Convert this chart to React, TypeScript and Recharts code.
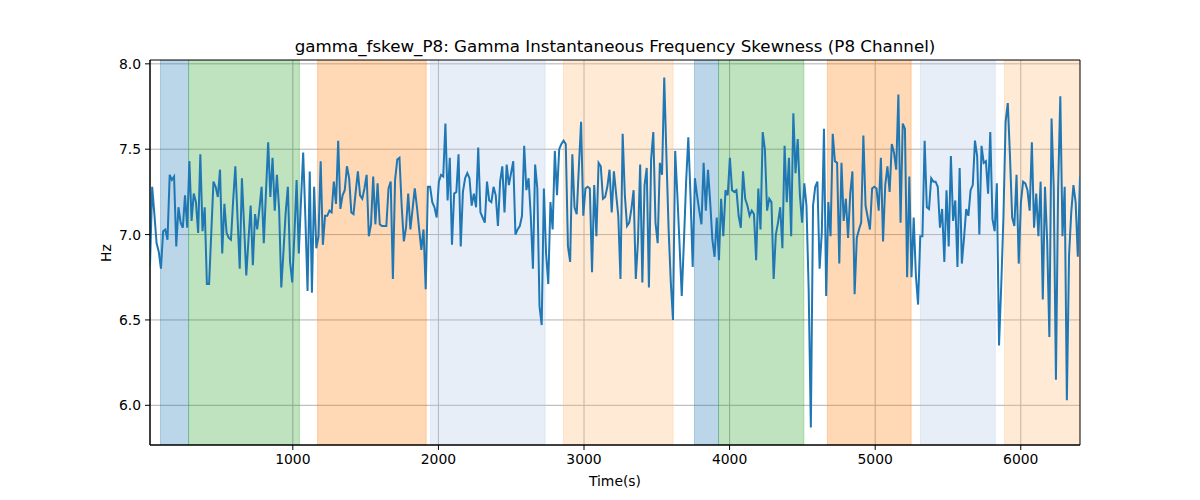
import React from "react";
import {
  LineChart,
  Line,
  XAxis,
  YAxis,
  CartesianGrid,
  ReferenceArea,
  Label,
} from "recharts";

// gamma_fskew_P8 samples, one every DT seconds starting at T0
const T0 = 19;
const DT = 15.03;
const FSKEW_HZ = [
  6.82, 7.28, 7.12, 6.95, 6.90, 6.80, 7.02, 7.03, 6.97, 7.35,
  7.32, 7.34, 6.93, 7.16, 7.07, 7.04, 7.23, 7.04, 7.43, 7.08,
  7.24, 7.19, 7.01, 7.47, 7.02, 7.16, 6.71, 6.71, 7.01, 7.31,
  7.28, 7.22, 7.38, 6.89, 7.18, 7.01, 6.98, 6.97, 7.20, 7.40,
  7.10, 6.80, 7.33, 7.05, 6.76, 6.97, 7.17, 6.82, 7.12, 7.03,
  7.15, 7.28, 6.95, 7.25, 7.54, 7.22, 7.45, 7.14, 7.35, 7.15,
  6.69, 6.90, 7.13, 7.28, 6.84, 6.72, 7.00, 7.32, 6.89, 7.20,
  7.48, 7.10, 6.67, 7.37, 6.66, 7.28, 6.92, 6.99, 7.43, 6.94,
  7.11, 7.11, 7.14, 7.13, 7.31, 7.18, 7.55, 7.15, 7.23, 7.26,
  7.40, 7.33, 7.13, 7.12, 7.25, 7.37, 7.23, 7.21, 7.27, 7.35,
  6.99, 7.06, 7.34, 7.06, 7.30, 7.06, 7.05, 7.05, 7.05, 7.27,
  7.31, 6.74, 7.32, 7.44, 7.45, 7.17, 6.96, 7.04, 7.24, 7.03,
  7.15, 7.27, 7.16, 7.03, 6.91, 7.03, 6.68, 7.28, 7.28, 7.19,
  7.16, 7.10, 7.31, 7.35, 7.34, 7.65, 7.20, 7.45, 6.94, 7.24,
  7.25, 7.47, 6.93, 7.25, 7.33, 7.36, 7.33, 7.17, 7.24, 7.16,
  7.51, 7.13, 7.10, 7.07, 7.31, 7.20, 7.19, 7.28, 7.23, 7.05,
  7.31, 7.40, 7.13, 7.41, 7.29, 7.36, 7.43, 7.00, 7.03, 7.05,
  7.11, 7.52, 7.26, 7.33, 7.11, 6.80, 7.41, 7.27, 6.58, 6.47,
  7.27, 6.89, 6.71, 7.19, 7.03, 7.49, 7.23, 7.50, 7.53, 7.55,
  7.53, 6.93, 6.84, 7.47, 7.16, 7.12, 7.40, 7.66, 7.11, 7.27,
  7.28, 7.27, 6.78, 7.29, 6.99, 7.42, 7.40, 7.21, 7.22, 7.28,
  7.38, 7.13, 7.37, 7.24, 7.11, 6.74, 7.59, 7.23, 7.05, 7.07,
  7.15, 7.26, 6.74, 6.96, 7.41, 6.72, 7.29, 7.39, 6.69, 7.44,
  7.60, 7.07, 6.95, 7.42, 7.35, 7.92, 7.46, 7.03, 6.72, 6.50,
  7.49, 7.23, 6.94, 6.64, 6.96, 7.31, 7.57, 7.23, 6.81, 7.33,
  7.23, 7.14, 7.06, 7.42, 7.14, 7.38, 7.19, 6.97, 6.87, 7.10,
  6.85, 7.21, 6.99, 7.26, 7.23, 7.45, 7.26, 7.25, 7.26, 7.11,
  7.04, 7.37, 7.21, 7.17, 7.11, 7.14, 7.12, 6.85, 7.27, 7.03,
  7.60, 7.50, 7.14, 7.21, 7.19, 6.74, 7.00, 7.07, 7.16, 6.92,
  7.52, 7.19, 7.45, 6.99, 7.71, 7.36, 7.56, 7.23, 7.07, 7.30,
  7.17, 6.68, 5.87, 7.17, 7.28, 7.31, 6.80, 7.01, 7.62, 6.64,
  7.19, 6.99, 7.59, 7.43, 7.42, 6.83, 7.42, 7.08, 7.21, 6.98,
  7.24, 7.37, 6.65, 6.98, 7.03, 7.07, 7.58, 7.17, 7.10, 7.03,
  7.27, 7.28, 7.27, 7.14, 7.45, 6.96, 7.29, 7.40, 7.25, 7.53,
  7.48, 7.38, 7.82, 7.07, 7.65, 7.62, 6.75, 7.34, 6.75, 7.10,
  6.76, 6.59, 6.99, 6.99, 7.55, 7.16, 7.15, 7.33, 7.31, 7.31,
  7.28, 7.04, 7.15, 6.84, 7.26, 6.93, 7.46, 7.08, 7.20, 6.81,
  7.39, 6.83, 6.98, 7.15, 7.11, 7.26, 7.29, 7.55, 7.46, 7.00,
  7.52, 7.42, 7.43, 7.24, 7.60, 7.09, 7.02, 7.30, 6.35, 6.70,
  7.10, 7.66, 7.77, 7.46, 7.10, 7.05, 7.35, 6.83, 7.19, 7.31,
  7.30, 7.26, 7.14, 7.54, 7.04, 7.24, 6.99, 7.31, 6.62, 7.28,
  6.96, 6.40, 7.68, 7.27, 6.15, 7.27, 7.81, 6.99, 7.28, 6.03,
  6.88, 7.13, 7.29, 7.19, 6.87, 7.34,
];

// shaded segments (seconds)
const BAND_START = [91, 284, 1170, 1946, 2859, 3759, 3924, 4672, 5311, 5888];
const BAND_END = [284, 1045, 1916, 2733, 3612, 3924, 4510, 5247, 5825, 6405];
const BAND_COLOR = [
  "#1f77b4", "#2ca02c", "#ff7f0e", "#aec7e8", "#ffbb78",
  "#1f77b4", "#2ca02c", "#ff7f0e", "#aec7e8", "#ffbb78",
];

const X_TICKS = [1000, 2000, 3000, 4000, 5000, 6000];
const Y_TICKS = [6.0, 6.5, 7.0, 7.5, 8.0];
const Y_DOMAIN = [5.7675, 8.0225];

const FONT = "'DejaVu Sans', sans-serif";
const tickStyle = { fontSize: 13.9, fill: "#000", fontFamily: FONT };

const XAxisTitle = () => (
  <text x={615} y={486} textAnchor="middle" fontSize={13.9} fontFamily={FONT} fill="#000">
    Time(s)
  </text>
);

const YAxisTitle = () => (
  <text
    x={106}
    y={253}
    transform="rotate(-90 106 253)"
    textAnchor="middle"
    dominantBaseline="central"
    fontSize={13.9}
    fontFamily={FONT}
    fill="#000"
  >
    Hz
  </text>
);

export default function App() {
  const data = FSKEW_HZ.map((v, i) => ({ t: T0 + i * DT, hz: v }));
  const xMax = T0 + (FSKEW_HZ.length - 1) * DT;

  return (
    <div style={{ position: "absolute", left: 0, top: 0, width: 1200, height: 500, background: "#fff" }}>
      <div
        style={{
          position: "absolute",
          left: 150,
          width: 930,
          top: 36,
          textAlign: "center",
          fontFamily: FONT,
          fontSize: 16.7,
          lineHeight: "20px",
          color: "#000",
        }}
      >
        gamma_fskew_P8: Gamma Instantaneous Frequency Skewness (P8 Channel)
      </div>
      <LineChart
        width={1200}
        height={500}
        data={data}
        margin={{ top: 60, right: 120, bottom: 0, left: 0 }}
      >
        {BAND_START.map((s, i) => (
          <ReferenceArea
            key={`band-${i}`}
            x1={s}
            x2={BAND_END[i]}
            y1={Y_DOMAIN[0]}
            y2={Y_DOMAIN[1]}
            fill={BAND_COLOR[i]}
            fillOpacity={0.3}
            stroke={BAND_COLOR[i]}
            strokeOpacity={0.3}
            ifOverflow="hidden"
          />
        ))}
        <CartesianGrid stroke="#b0b0b0" strokeWidth={1} horizontalValues={Y_TICKS} verticalValues={X_TICKS} />
        <XAxis
          dataKey="t"
          type="number"
          domain={[T0, xMax]}
          ticks={X_TICKS}
          allowDataOverflow
          height={55}
          tick={tickStyle}
          tickSize={5}
          tickMargin={4}
          tickLine={{ stroke: "#000" }}
          axisLine={{ stroke: "#000" }}
        >
          <Label content={<XAxisTitle />} />
        </XAxis>
        <YAxis
          type="number"
          domain={Y_DOMAIN}
          ticks={Y_TICKS}
          allowDataOverflow
          width={150}
          tick={tickStyle}
          tickFormatter={(v: number) => v.toFixed(1)}
          tickSize={5}
          tickMargin={4}
          tickLine={{ stroke: "#000" }}
          axisLine={{ stroke: "#000" }}
        >
          <Label content={<YAxisTitle />} />
        </YAxis>
        <Line
          type="linear"
          dataKey="hz"
          stroke="#1f77b4"
          strokeWidth={2}
          dot={false}
          isAnimationActive={false}
        />
        <ReferenceArea
          x1={T0}
          x2={xMax}
          y1={Y_DOMAIN[0]}
          y2={Y_DOMAIN[1]}
          fill="none"
          stroke="#000"
          strokeWidth={1}
        />
      </LineChart>
    </div>
  );
}
